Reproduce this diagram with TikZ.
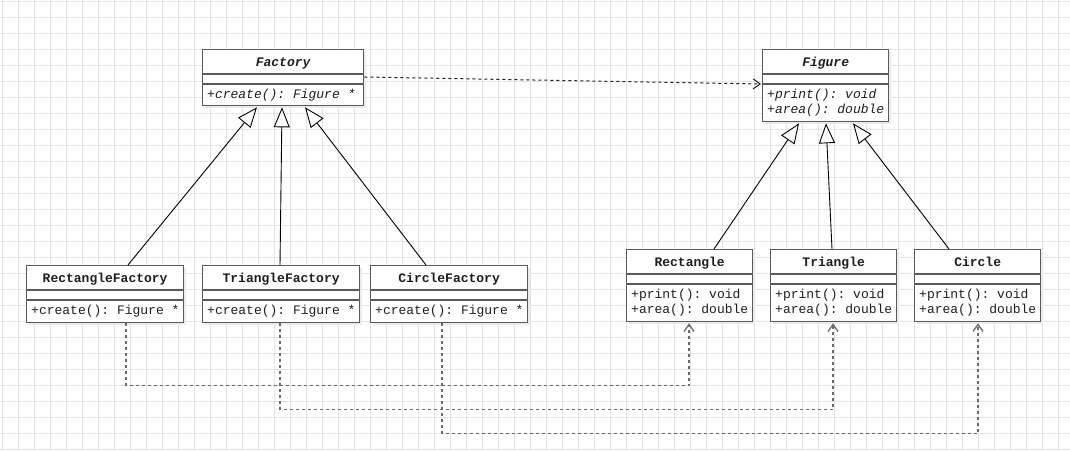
\documentclass[tikz,border=0pt]{standalone}
\usepackage{fontspec}
\setmonofont{Liberation Mono}
\usetikzlibrary{arrows.meta,calc}
\definecolor{gridc}{HTML}{E3E3E3}
\definecolor{boxc}{HTML}{5A5A5A}
\definecolor{shadc}{HTML}{EBEBEB}
\definecolor{depc}{HTML}{6A6A6A}
\definecolor{txtc}{HTML}{1E1E1E}
\tikzset{
  classbox/.style={draw=boxc, line width=1.3pt, fill=white, inner sep=0pt, anchor=north west},
  secline/.style={draw=boxc, line width=1.3pt},
  ttl/.style={font=\fontsize{13}{15}\selectfont\ttfamily\bfseries, text=txtc, anchor=base, inner sep=0pt},
  mth/.style={font=\fontsize{13}{15}\selectfont\ttfamily, text=txtc, anchor=base west, inner sep=0pt},
  inh/.style={draw=black, line width=0.9pt, -{Triangle[length=20pt,width=16pt,fill=white]}},
  dep/.style={draw=txtc, line width=1pt, dash pattern=on 3pt off 3pt, -{Straight Barb[length=7pt,width=10pt]}},
  depg/.style={dep, draw=depc, line width=1.3pt}
}
% name, x, y, w, h, title, method 1, method 2, shape of text
\newcommand\umlclassbox[9]{%
  \fill[shadc] (#2+3,#3+3) rectangle ++(#4,#5);
  \node[classbox, minimum width=#4pt, minimum height=#5pt] (#1) at (#2,#3) {};
  \draw[secline] ($(#1.north west)+(0,25)$) -- ($(#1.north east)+(0,25)$);
  \draw[secline] ($(#1.north west)+(0,35)$) -- ($(#1.north east)+(0,35)$);
  \node[ttl, font=\fontsize{13}{15}\selectfont\ttfamily\bfseries#9] (#1-t) at ($(#1.north)+(0,17)$) {#6};
  \node[mth, font=\fontsize{13}{15}\selectfont\ttfamily#9] (#1-m1) at ($(#1.north west)+(5,49)$) {#7};
  \node[mth, font=\fontsize{13}{15}\selectfont\ttfamily#9] (#1-m2) at ($(#1.north west)+(5,64)$) {#8};
}
\begin{document}
\begin{tikzpicture}[x=1pt,y=-1pt]
\useasboundingbox (0,0) rectangle (1070,451);
\fill[white] (0,0) rectangle (1070,451);
\foreach \i in {0,...,66} \draw[gridc, line width=0.8pt] (2+16*\i,0) -- (2+16*\i,451);
\foreach \j in {0,...,28} \draw[gridc, line width=0.8pt] (0,1+16*\j) -- (1070,1+16*\j);

\umlclassbox{fac}{202}{49}{161}{56}{Factory}{+create(): Figure *}{}{\itshape}
\umlclassbox{fig}{762}{49}{126}{72}{Figure}{+print(): void}{+area(): double}{\itshape}
\umlclassbox{rf}{26}{265}{157}{57}{RectangleFactory}{+create(): Figure *}{}{}
\umlclassbox{tf}{202}{265}{157}{57}{TriangleFactory}{+create(): Figure *}{}{}
\umlclassbox{cf}{370}{265}{157}{57}{CircleFactory}{+create(): Figure *}{}{}
\umlclassbox{r}{626}{249}{126}{72}{Rectangle}{+print(): void}{+area(): double}{}
\umlclassbox{t}{770}{249}{126}{72}{Triangle}{+print(): void}{+area(): double}{}
\umlclassbox{c}{914}{249}{126}{72}{Circle}{+print(): void}{+area(): double}{}

% inheritance
\draw[inh] ($(rf.north west)+(102,0)$) -- ($(fac.south west)+(55,1)$);
\draw[inh] ($(tf.north west)+(78,0)$) -- ($(fac.south west)+(80,1)$);
\draw[inh] ($(cf.north west)+(56,0)$) -- ($(fac.south west)+(103,1)$);
\draw[inh] ($(r.north west)+(88,0)$) -- ($(fig.south west)+(37,1)$);
\draw[inh] ($(t.north west)+(62,0)$) -- ($(fig.south west)+(64,1)$);
\draw[inh] ($(c.north west)+(35,0)$) -- ($(fig.south west)+(91,1)$);

% dependency
\draw[dep] ($(fac.north east)+(0,28)$) -- ($(fig.north west)+(-1,35)$);
\draw[depg] ($(rf.south west)+(100,0)$) -- ++(0,62.5) -| ($(r.south west)+(63,1)$);
\draw[depg] ($(tf.south west)+(78,0)$) -- ++(0,86.5) -| ($(t.south west)+(63,1)$);
\draw[depg] ($(cf.south west)+(72,0)$) -- ++(0,110.5) -| ($(c.south west)+(64,1)$);
\end{tikzpicture}
\end{document}
